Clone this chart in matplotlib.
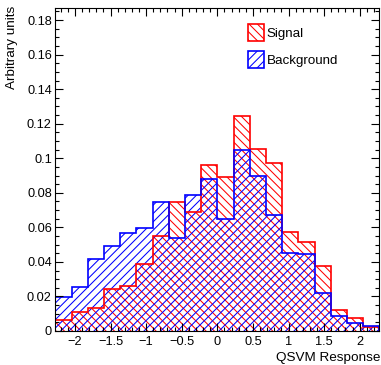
import numpy as np
import matplotlib
matplotlib.use("Agg")
import matplotlib.pyplot as plt
from matplotlib.patches import Patch
from matplotlib.ticker import MultipleLocator, FuncFormatter

# QSVM response histograms (normalised), 20 bins from -2.275 to 2.275
bin_lo, bin_hi, n_bins = -2.275, 2.275, 20
signal = [0.0064, 0.0112, 0.0133, 0.0245, 0.0258, 0.0385, 0.0551, 0.0747, 0.0690, 0.0963,
          0.0894, 0.1247, 0.1054, 0.0975, 0.0574, 0.0518, 0.0376, 0.0121, 0.0073, 0.0025]
background = [0.0195, 0.0253, 0.0416, 0.0490, 0.0570, 0.0594, 0.0744, 0.0537, 0.0790, 0.0882,
              0.0651, 0.1046, 0.0896, 0.0674, 0.0453, 0.0443, 0.0220, 0.0089, 0.0044, 0.0030]
labels = ["Signal", "Background"]

plt.rcParams['font.family'] = ['Liberation Sans', 'DejaVu Sans']
plt.rcParams['hatch.linewidth'] = 0.75

edges = np.linspace(bin_lo, bin_hi, n_bins + 1)
sig_hatch = '\\\\\\\\'
bkg_hatch = '////'

fig = plt.figure(figsize=(3.81, 3.65), dpi=100)
ax = fig.add_axes([0.1452, 0.0932, 0.8504, 0.8848])

ax.stairs(signal, edges, fill=True, facecolor='none', edgecolor='red',
          hatch=sig_hatch, linewidth=0)
ax.stairs(background, edges, fill=True, facecolor='none', edgecolor='blue',
          hatch=bkg_hatch, linewidth=0)
ax.stairs(signal, edges, color='red', linewidth=1.2)
ax.stairs(background, edges, color='blue', linewidth=1.2)

ax.set_xlim(bin_lo, bin_hi)
ax.set_ylim(0, 0.187)

fs_tick = 9.2
fs_lab = 9.7
ax.xaxis.set_major_locator(MultipleLocator(0.5))
ax.xaxis.set_minor_locator(MultipleLocator(0.1))
ax.yaxis.set_major_locator(MultipleLocator(0.02))
ax.yaxis.set_minor_locator(MultipleLocator(0.005))
fmt = FuncFormatter(lambda v, p: f"{v:g}".replace('-', '\u2212'))
ax.xaxis.set_major_formatter(fmt)
ax.yaxis.set_major_formatter(FuncFormatter(lambda v, p: "0" if abs(v) < 1e-9 else f"{v:g}"))
ax.tick_params(which='both', direction='in', top=True, right=True, labelsize=fs_tick, width=0.8)
ax.tick_params(which='major', length=6)
ax.tick_params(which='minor', length=3)
ax.tick_params(axis='x', pad=3.5)
ax.tick_params(axis='y', pad=2.5)
for s in ax.spines.values():
    s.set_linewidth(0.8)

fig.text(12.3 / 381, 1 - 6 / 365, "Arbitrary units", rotation=90, ha='center', va='top', fontsize=fs_lab)
fig.text(380 / 381, 1 - 358 / 365, "QSVM Response", ha='right', va='center', fontsize=fs_lab)

handles = [Patch(facecolor='none', edgecolor='red', hatch=sig_hatch, linewidth=1.2),
           Patch(facecolor='none', edgecolor='blue', hatch=bkg_hatch, linewidth=1.2)]
ax.legend(handles, labels, loc='upper left', bbox_to_anchor=(0.594, 0.952), frameon=False,
          fontsize=9.6, handlelength=1.2, handleheight=1.65, handletextpad=0.2,
          labelspacing=0.72, borderaxespad=0, borderpad=0)

fig.savefig("out.png", dpi=100)
